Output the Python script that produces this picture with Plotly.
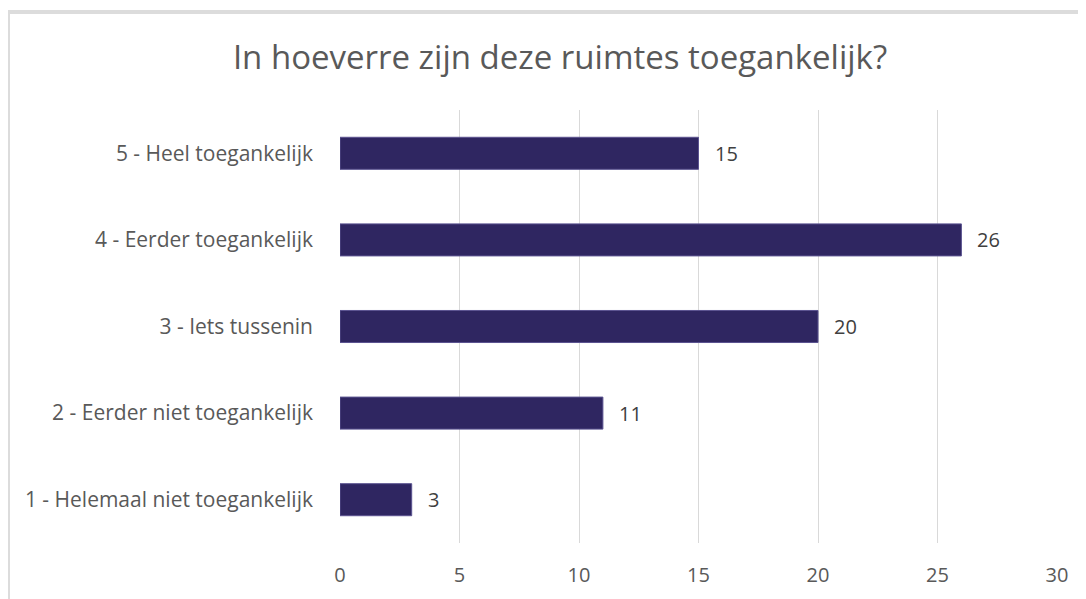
import plotly.graph_objects as go

categories = [
    "1 - Helemaal niet toegankelijk",
    "2 - Eerder niet toegankelijk",
    "3 - Iets tussenin",
    "4 - Eerder toegankelijk",
    "5 - Heel toegankelijk",
]
counts = [3, 11, 20, 26, 15]
x_ticks = [0, 5, 10, 15, 20, 25, 30]

W, H = 1086, 599
ML, MR, MT, MB = 332, 37, 102, 64
pw, ph = W - ML - MR, H - MT - MB

fig = go.Figure(
    go.Bar(
        x=counts,
        y=categories,
        orientation="h",
        marker=dict(color="#2F2661", line=dict(color="#5B5390", width=1)),
        width=0.37,
        hoverinfo="x+y",
    )
)

# value labels a bit away from the bar ends
for cat, val in zip(categories, counts):
    fig.add_annotation(
        x=val, y=cat, text=str(val),
        xanchor="left", yanchor="middle", xshift=14,
        showarrow=False,
        font=dict(family="Open Sans", size=20, color="#404040"),
    )

fig.update_layout(
    width=W,
    height=H,
    margin=dict(l=ML, r=MR, t=MT, b=MB),
    paper_bgcolor="white",
    plot_bgcolor="white",
    showlegend=False,
    title=dict(
        text="In hoeverre zijn deze ruimtes toegankelijk?",
        x=552 / W,
        xanchor="center",
        y=1 - 49 / H,
        yanchor="middle",
        font=dict(family="Open Sans", size=33, color="#595959"),
    ),
    font=dict(family="Open Sans", size=21, color="#595959"),
)

fig.update_xaxes(
    range=[0, 30],
    tickvals=x_ticks,
    showgrid=True,
    gridcolor="#D9D9D9",
    gridwidth=1,
    zeroline=False,
    showline=False,
    ticks="",
    ticklabelstandoff=18,
    tickfont=dict(size=20, color="#595959"),
)
fig.update_yaxes(
    showgrid=False,
    zeroline=False,
    showline=False,
    ticks="",
    ticklabelstandoff=26,
    tickfont=dict(size=21, color="#595959"),
)

# chart frame
fig.add_shape(
    type="rect", xref="paper", yref="paper",
    x0=-ML / pw, x1=1.2, y0=-0.3, y1=1 + (MT - 4) / ph,
    line=dict(color="#DCDCDC", width=4),
)

fig.write_html("out.html")
